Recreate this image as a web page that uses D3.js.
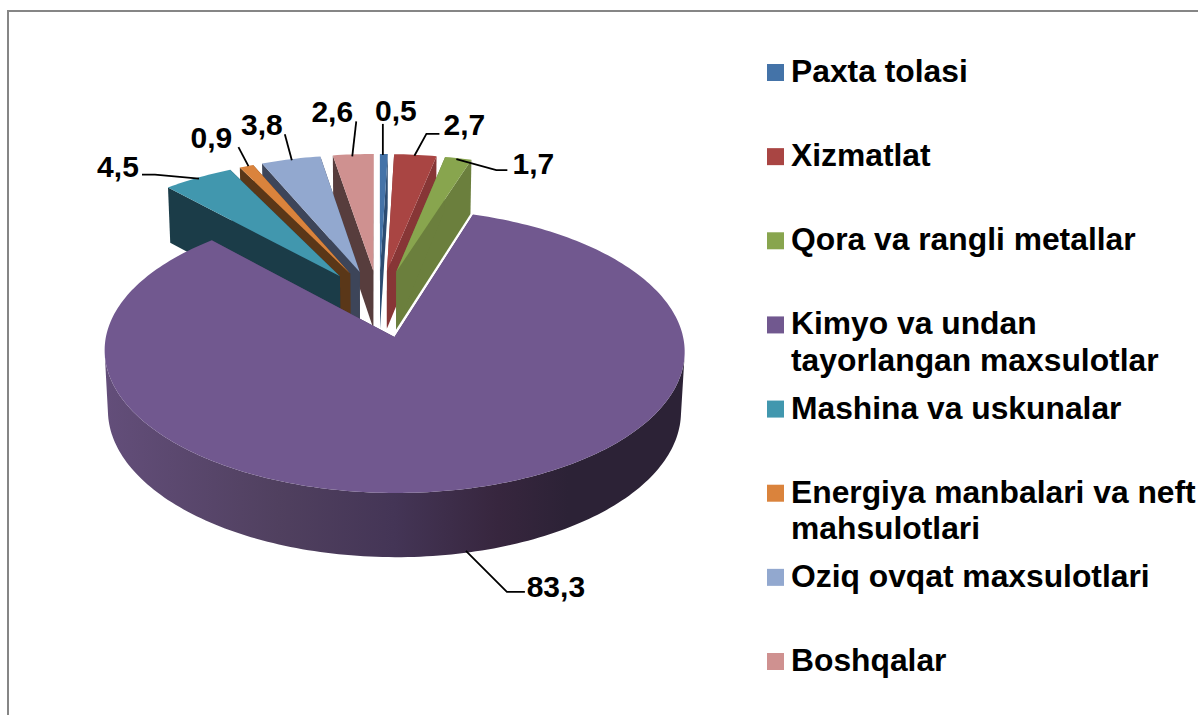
<!DOCTYPE html>
<html lang=uz>
<meta charset=utf-8>
<title>Pie</title>
<style>
  html, body { margin: 0; background: #fff; }
  svg { display: block; }
  text { font-family: "Liberation Sans", Arial, sans-serif; font-weight: bold; fill: #000; }
</style>
<svg id=chart width=1198 height=715></svg>
<script src=https://d3js.org/d3.v7.min.js></script>
<script>
// data
var categories = ["Paxta tolasi", "Xizmatlat", "Qora va rangli metallar",
    "Kimyo va undan\ntayorlangan maxsulotlar", "Mashina va uskunalar",
    "Energiya manbalari va neft\nmahsulotlari", "Oziq ovqat maxsulotlari", "Boshqalar"];
var values = [0.5, 2.7, 1.7, 83.3, 4.5, 0.9, 3.8, 2.6];
var valueLabels = ["0,5", "2,7", "1,7", "83,3", "4,5", "0,9", "3,8", "2,6"];

// styles
var topColors = ["#4473a8", "#a94543", "#88a54e", "#71588f", "#4197ae", "#da833c", "#92a8cf", "#cf9190"];
var wallColors = ["#2c4c72", "#873636", "#6b7f3d", "#4a3a5e", "#1b3c48", "#5a3718", "#3d4559", "#573d3d"];

// label layout, relative to the middle of each slice's outer edge
var leaderOffsets = [
    [[-1, 1], [-1, -30]],
    [[-1, 1], [11, -21], [24, -21]],
    [[-2, 1], [38, 12], [49, 12]],
    [[1, 62], [42, 103], [60, 103]],
    [[1, 1], [-43, -3], [-56, -3]],
    [[2, 0], [-8, -19]],
    [[1, 1], [-6, -25]],
    [[-1, 2], [3, -33]]
];
var labelOffsets = [[12, -44], [49, -31], [75, 5], [91, 97], [-80, -11], [-35, -29], [-29, -35], [-21, -43]];

var svg = d3.select("#chart");

// frame, only top and left edges are in the picture
svg.append("path")
    .attr("d", "M8,715V11H1198")
    .attr("fill", "none")
    .attr("stroke", "#868686")
    .attr("stroke-width", 2);

// 3d projection, fitted to the big slice
var vanishX = 378.5, vanishOffset = 16, originY = 337;
var scaleX = 288.6, scaleY = 140.6, depth = 60.5;
var perspective = 0.0986, perspectiveZ = 0.012;
var explode = 0.25;

function project(x, y, z) {
    var s = 1 / (1 + perspective * y + perspectiveZ * z);
    return [vanishX + (scaleX * x + vanishOffset) * s, originY + (-scaleY * y + depth * z) * s];
}

var arcs = d3.pie().sort(null)(values);
var big = arcs[3];
var bigMid = (big.startAngle + big.endAngle) / 2;
// pie centre sits so the big slice's tip lands on the origin
var centerX = -explode * Math.sin(bigMid);
var centerY = -explode * Math.cos(bigMid);

arcs.forEach(function (d, i) {
    d.index = i;
    d.mid = (d.startAngle + d.endAngle) / 2;
    d.tipX = centerX + explode * Math.sin(d.mid);
    d.tipY = centerY + explode * Math.cos(d.mid);
});

function edge(d, a, z) {
    return project(d.tipX + Math.sin(a), d.tipY + Math.cos(a), z);
}

function arcPoints(d, z) {
    var n = Math.max(2, Math.ceil((d.endAngle - d.startAngle) / 0.02));
    return d3.range(n + 1).map(function (k) {
        return edge(d, d.startAngle + (d.endAngle - d.startAngle) * k / n, z);
    });
}

var line = d3.line().curve(d3.curveLinearClosed);

// outer wall as one path of small quads, only the ones facing the camera
function outerWall(d) {
    var top = arcPoints(d, 0), bottom = arcPoints(d, 1), path = "";
    d3.pairs(d3.range(top.length)).forEach(function (p) {
        var q = [top[p[0]], top[p[1]], bottom[p[1]], bottom[p[0]]];
        if (d3.polygonArea(q) > 0) path += line(q);
    });
    return path;
}

// wall shading of the big slice
var grad = svg.append("defs").append("linearGradient")
    .attr("id", "bigWall")
    .attr("gradientUnits", "userSpaceOnUse")
    .attr("x1", 104).attr("x2", 684).attr("y1", 0).attr("y2", 0);
[[0, "#634e7a"], [0.3, "#50405f"], [0.5, "#443556"], [0.68, "#37263e"], [0.8, "#2c2236"], [1, "#2c2236"]].forEach(function (s) {
    grad.append("stop").attr("offset", s[0]).attr("stop-color", s[1]);
});

// paint far slices first, the big one goes last
var order = arcs.slice().sort(function (a, b) { return b.tipY - a.tipY; });

var slices = svg.append("g").selectAll("g").data(order).join("g");

slices.each(function (d) {
    var g = d3.select(this);
    var fill = d.index == 3 ? "url(#bigWall)" : wallColors[d.index];
    var tipTop = project(d.tipX, d.tipY, 0), tipBottom = project(d.tipX, d.tipY, 1);

    [d.endAngle, d.startAngle].forEach(function (a) {
        g.append("path")
            .attr("d", line([tipTop, edge(d, a, 0), edge(d, a, 1), tipBottom]))
            .attr("fill", wallColors[d.index]);
    });
    g.append("path")
        .attr("d", outerWall(d))
        .attr("fill", fill);
    g.append("path")
        .attr("d", line([tipTop].concat(arcPoints(d, 0))))
        .attr("fill", topColors[d.index]);
});

// value labels with leader lines
var labels = svg.append("g").selectAll("g").data(arcs).join("g")
    .attr("transform", function (d) {
        var p = edge(d, d.mid, 0);
        return "translate(" + p[0] + "," + p[1] + ")";
    });

labels.append("path")
    .attr("d", function (d) { return d3.line()(leaderOffsets[d.index]); })
    .attr("fill", "none")
    .attr("stroke", "#000")
    .attr("stroke-width", 1.8);

labels.append("text")
    .attr("x", function (d) { return labelOffsets[d.index][0]; })
    .attr("y", function (d) { return labelOffsets[d.index][1]; })
    .attr("dy", "0.36em")
    .attr("text-anchor", "middle")
    .attr("font-size", 30)
    .text(function (d) { return valueLabels[d.index]; });

// legend
var legendY = d3.scalePoint().domain(categories).range([72.5, 661.5]);
var legend = svg.append("g").selectAll("g").data(categories).join("g")
    .attr("transform", function (d) { return "translate(767," + legendY(d) + ")"; });

legend.append("rect")
    .attr("y", -8.5)
    .attr("width", 17)
    .attr("height", 17)
    .attr("fill", function (d, i) { return topColors[i]; });

legend.append("text")
    .attr("font-size", 31.8)
    .selectAll("tspan")
    .data(function (d) { return d.split("\n"); })
    .join("tspan")
    .attr("x", 24)
    .attr("y", function (d, i) { return 9.5 + i * 36.5; })
    .text(function (d) { return d; });
</script>
